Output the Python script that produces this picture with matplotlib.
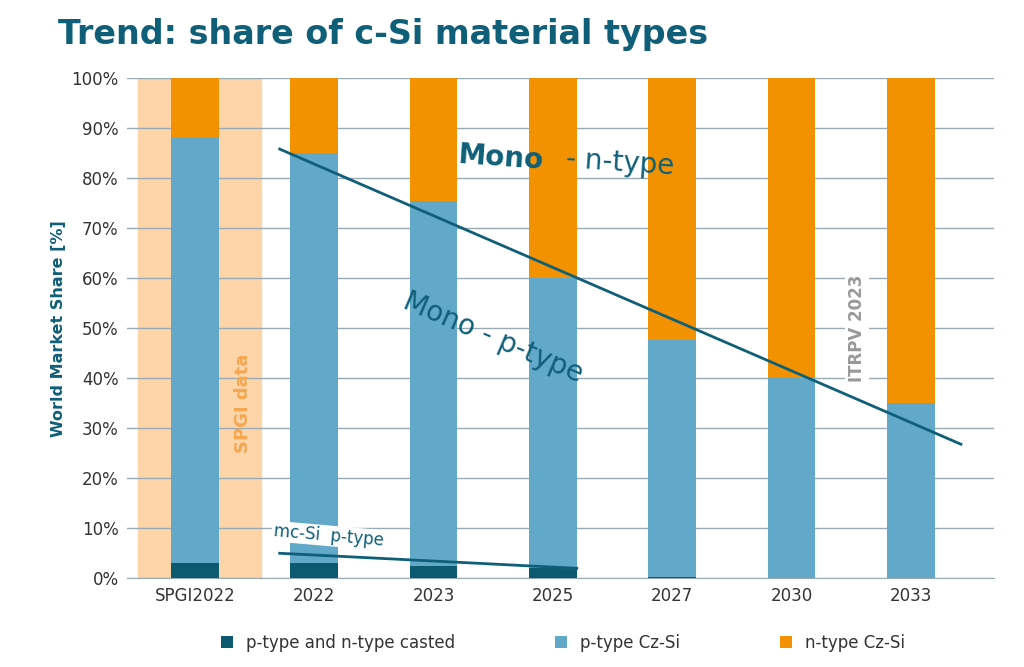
import matplotlib
matplotlib.use("Agg")
import matplotlib.pyplot as plt
import numpy as np

categories = ["SPGI2022", "2022", "2023", "2025", "2027", "2030", "2033"]
casted = [3, 3, 2.5, 2, 0.3, 0, 0]
p_type = [85, 82, 73, 58, 47.3, 40, 35]
n_type = [12, 15, 24.5, 40, 52.4, 60, 65]

C_CAST = "#0b5a70"
C_P = "#62a8c9"
C_N = "#f39200"
C_TEAL = "#0f5f78"

fig = plt.figure(figsize=(10.24, 6.67), dpi=100)
ax = fig.add_axes([0.124, 0.133, 0.847, 0.75])
x = np.arange(len(categories))
ax.axvspan(-0.48, 0.55, color="#fdd5a8", zorder=0)
w = 0.4
ax.bar(x, casted, w, color=C_CAST, zorder=3, label="p-type and n-type casted")
ax.bar(x, p_type, w, bottom=casted, color=C_P, zorder=3, label="p-type Cz-Si")
bot = np.array(casted) + np.array(p_type)
ax.bar(x, n_type, w, bottom=bot, color=C_N, zorder=3, label="n-type Cz-Si")

ax.set_xlim(-0.57, 6.7)
ax.set_ylim(0, 100)
ax.set_yticks(range(0, 101, 10))
ax.set_yticklabels([f"{v}%" for v in range(0, 101, 10)], fontsize=12, color="#333333")
ax.set_xticks(x)
ax.set_xticklabels(categories, fontsize=12, color="#333333")
ax.yaxis.grid(True, color="#9aaab5", lw=1, zorder=1)
for s in ["top", "right", "left"]:
    ax.spines[s].set_visible(False)
ax.spines["bottom"].set_color("#9aaab5")
ax.tick_params(length=0, pad=6)
ax.set_ylabel("World Market Share [%]", fontsize=11.5, fontweight="bold", color=C_TEAL)

ax.plot([0.71, 6.42], [85.8, 26.8], color=C_TEAL, lw=2, zorder=4)
ax.plot([0.71, 3.2], [5, 2], color=C_TEAL, lw=2, zorder=4)

ax.text(0.4, 35, "SPGI data", rotation=90, color="#f5a650", fontsize=13, fontweight="bold", ha="center", va="center", zorder=2)
ax.text(5.55, 50, "ITRPV 2023", rotation=90, color="#999999", fontsize=12, fontweight="bold", ha="center", va="center", zorder=5,
        bbox=dict(facecolor="white", edgecolor="none", pad=2))
ax.text(2.2, 84, "Mono", fontsize=20, fontweight="bold", color=C_TEAL, rotation=-4, ha="left", va="center", zorder=5)
ax.text(3.1, 83, "- n-type", fontsize=20, color=C_TEAL, rotation=-4, ha="left", va="center", zorder=5)
ax.text(2.5, 48, "Mono - p-type", fontsize=20, color=C_TEAL, rotation=-23, ha="center", va="center", zorder=5)
ax.text(2.3, 53, "Mono", fontsize=20, fontweight="bold", color=C_TEAL, rotation=-23, ha="center", va="center", zorder=6, alpha=0)
ax.text(0.65, 8.5, "mc-Si  p-type", fontsize=12, color=C_TEAL, rotation=-5, ha="left", va="center", zorder=5,
        bbox=dict(facecolor="white", edgecolor="none", pad=1))

fig.text(0.057, 0.948, "Trend: share of c-Si material types", fontsize=24, fontweight="bold", color=C_TEAL, va="center")
leg = fig.legend(loc="lower center", bbox_to_anchor=(0.55, 0.0), ncol=3, frameon=False, fontsize=12,
                 handlelength=0.7, handleheight=0.7, columnspacing=6)
for t in leg.get_texts():
    t.set_color("#333333")
fig.savefig("out.png", dpi=100, facecolor="white")
